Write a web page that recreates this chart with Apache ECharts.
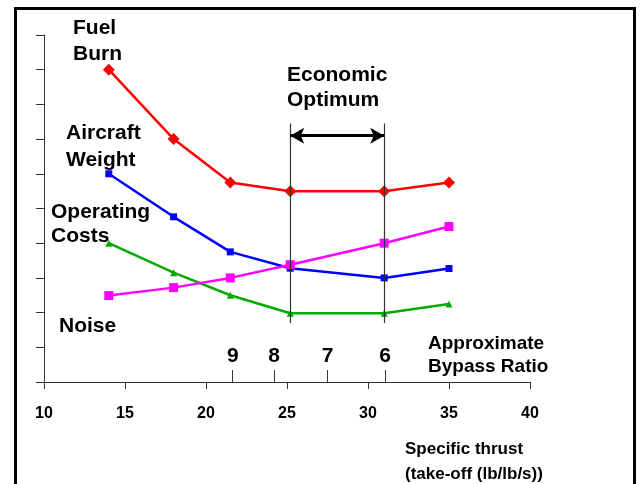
<!DOCTYPE html>
<html>
<head>
<meta charset="utf-8">
<script src="https://cdn.jsdelivr.net/npm/echarts@6/dist/echarts.min.js"></script>
<style>
    html, body { margin: 0; padding: 0; background: #fff; }
    #main { width: 640px; height: 484px; }
</style>
</head>
<body>
<div id="main"></div>
<script>
// specific thrust values where the points sit
var thrust = [14, 18, 21.5, 25.2, 31, 35];
var fuelBurn = [9.0, 7.0, 5.75, 5.5, 5.5, 5.75];
var aircraftWeight = [6.0, 4.76, 3.75, 3.28, 3.0, 3.27];
var operatingCosts = [4.0, 3.15, 2.5, 1.98, 1.98, 2.25];
var noise = [2.49, 2.72, 3.0, 3.38, 4.0, 4.48];
// approximate bypass ratio scale
var bypassAt = [21.65, 24.2, 27.5, 31.05];
var bypassLabels = ['9', '8', '7', '6'];
// economic optimum band
var optimum = [25.2, 31];
var optimumY = [1.7, 7.45];
var arrowY = 7.1;

function pairs(ys) {
    var out = []
    ys.forEach(function (v, i) { out.push([thrust[i], v]) })
    return out
}

var myChart = echarts.init(document.getElementById('main'));

function lineSeries(name, data, color, symbol, size) {
    return {
        name: name,
        type: 'line',
        data: pairs(data),
        symbol: symbol,
        symbolSize: size,
        lineStyle: { color: color, width: 2.5 },
        itemStyle: { color: color },
        z: 3
    }
}

var series = [
    lineSeries('Fuel Burn', fuelBurn, '#ff0000', 'diamond', 12),
    lineSeries('Aircraft Weight', aircraftWeight, '#0000ff', 'rect', 7),
    lineSeries('Operating Costs', operatingCosts, '#00aa00', 'triangle', 7),
    lineSeries('Noise', noise, '#ff00ff', 'rect', 9)
];
// economic optimum lines and arrow
series.push({
    type: 'line',
    data: [],
    markLine: {
        silent: true,
        animation: false,
        label: { show: false },
        data: [
            [{ coord: [optimum[0], optimumY[0]], symbol: 'none' }, { coord: [optimum[0], optimumY[1]], symbol: 'none' }],
            [{ coord: [optimum[1], optimumY[0]], symbol: 'none' }, { coord: [optimum[1], optimumY[1]], symbol: 'none' }]
        ],
        lineStyle: { color: '#333', width: 1.2, type: 'solid' }
    }
})
series.push({
    type: 'line',
    data: [],
    markLine: {
        silent: true,
        animation: false,
        symbol: ['arrow', 'arrow'],
        symbolSize: [12, 14],
        label: { show: false },
        data: [
            [{ coord: [optimum[0], arrowY] }, { coord: [optimum[1], arrowY] }]
        ],
        lineStyle: { color: '#000', width: 3, type: 'solid' }
    }
})

function txt(x, y, s, size, lh) {
    return {
        type: 'text', left: x, top: y,
        style: {
            text: s, fill: '#000',
            font: 'bold ' + size + 'px "Liberation Sans", Arial, sans-serif',
            lineHeight: lh
        }
    }
}

var option = {
    animation: false,
    grid: { left: 44, right: 110, top: 35, bottom: 102 },
    xAxis: [{
        type: 'value',
        min: 10, max: 40, interval: 5,
        axisLine: { lineStyle: { color: '#333', width: 1 } },
        axisTick: { show: true, length: 7, lineStyle: { color: '#333' } },
        axisLabel: { margin: 24, color: '#000', fontWeight: 'bold', fontSize: 16, fontFamily: 'Liberation Sans' },
        splitLine: { show: false }
    }, {
        type: 'value',
        position: 'bottom',
        min: 10, max: 40,
        axisLine: { show: false },
        axisTick: { show: true, inside: true, length: 12, customValues: bypassAt, lineStyle: { color: '#333' } },
        axisLabel: {
            inside: true, margin: 15, customValues: bypassAt,
            color: '#000', fontWeight: 'bold', fontSize: 21, fontFamily: 'Liberation Sans',
            formatter: function (v) {
                var i = bypassAt.indexOf(v)
                return i >= 0 ? bypassLabels[i] : ''
            }
        },
        splitLine: { show: false }
    }],
    yAxis: {
        type: 'value',
        min: 0, max: 10, interval: 1,
        axisLine: { show: true, lineStyle: { color: '#333', width: 1 } },
        axisTick: { show: true, length: 8, lineStyle: { color: '#333' } },
        axisLabel: { show: false },
        splitLine: { show: false }
    },
    graphic: [
        {
            type: 'rect', left: 13, top: 6,
            shape: { width: 619, height: 500 },
            style: { fill: 'none', stroke: '#000', lineWidth: 3 }
        },
        txt(73, 15, 'Fuel\nBurn', 21, 26),
        txt(66, 120, 'Aircraft\nWeight', 21, 27),
        txt(51, 200, 'Operating\nCosts', 21, 24),
        txt(59, 314, 'Noise', 21, 24),
        txt(287, 63, 'Economic\nOptimum', 21, 25),
        txt(428, 332, 'Approximate\nBypass Ratio', 19, 23),
        txt(405, 437, 'Specific thrust\n(take-off (lb/lb/s))', 17, 25)
    ],
    series: series
};
myChart.setOption(option);
</script>
</body>
</html>
